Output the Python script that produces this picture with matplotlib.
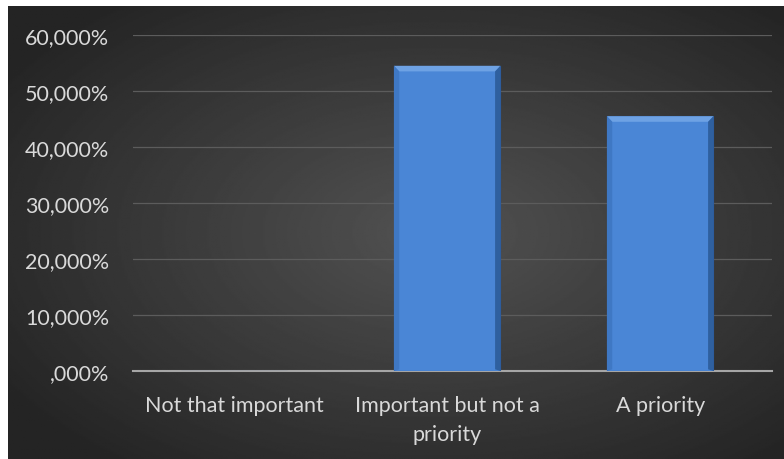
import matplotlib.pyplot as plt
import numpy as np
from matplotlib.patches import Polygon
from matplotlib.ticker import FuncFormatter

categories = ['Not that important', 'Important but not a\npriority', 'A priority']
values = [0.0, 54.5, 45.5]
yticks = [0, 10, 20, 30, 40, 50, 60]

plt.rcParams['font.family'] = ['Lato', 'DejaVu Sans']

fig = plt.figure(figsize=(7.84, 4.6), dpi=100)
fig.patch.set_facecolor('white')

# dark radial gradient background (chart area of the original)
bg = fig.add_axes([8/784, 0, 776/784, 453/460])
yy, xx = np.mgrid[-1:1:300j, -1:1:500j]
r = np.sqrt(((xx-0.1)*0.75)**2 + (yy*0.75)**2)
gray = np.clip(82 - 46*r, 36, 90) / 255.0
bg.imshow(gray, cmap='gray', vmin=0, vmax=1, aspect='auto', extent=[0, 1, 0, 1])
bg.axis('off')

ax = fig.add_axes([133/784, (460-372)/460, (772-133)/784, (372-36)/460])
ax.set_facecolor('none')
bars = ax.bar(range(len(values)), values, width=0.5, color='#4a86d6',
              edgecolor='#2c5a9a', linewidth=0.8, zorder=3)

# bevel on each bar
for b in bars:
    x0, y0 = b.get_x(), b.get_y()
    w, h = b.get_width(), b.get_height()
    if h <= 0:
        continue
    bx = w * 0.05
    by = 1.0
    ax.add_patch(Polygon([[x0, y0+h], [x0+w, y0+h], [x0+w-bx, y0+h-by], [x0+bx, y0+h-by]],
                         closed=True, color='#6ea2e4', zorder=4, lw=0))
    ax.add_patch(Polygon([[x0, y0], [x0+bx, y0+by*0.3], [x0+bx, y0+h-by], [x0, y0+h]],
                         closed=True, color='#3f78c4', zorder=4, lw=0))
    ax.add_patch(Polygon([[x0+w, y0], [x0+w-bx, y0+by*0.3], [x0+w-bx, y0+h-by], [x0+w, y0+h]],
                         closed=True, color='#2f609f', zorder=4, lw=0))

ax.set_ylim(0, 60)
ax.set_xlim(-0.475, 2.525)
ax.set_yticks(yticks)
ax.yaxis.set_major_formatter(FuncFormatter(lambda v, p: (',000%' if v == 0 else '%d,000%%' % v)))
ax.set_xticks(range(len(categories)))
ax.set_xticklabels(categories, linespacing=1.6)
ax.tick_params(axis='both', length=0, colors='#d9d9d9', labelsize=15.5)
ax.tick_params(axis='y', pad=17)
ax.tick_params(axis='x', pad=17)
ax.grid(axis='y', color='#5c5c5c', linewidth=0.9, zorder=0)
for s in ['top', 'right', 'left']:
    ax.spines[s].set_visible(False)
ax.spines['bottom'].set_color('#a6a6a6')
ax.spines['bottom'].set_linewidth(1.5)

fig.savefig('out.png', dpi=100, facecolor=fig.get_facecolor())
